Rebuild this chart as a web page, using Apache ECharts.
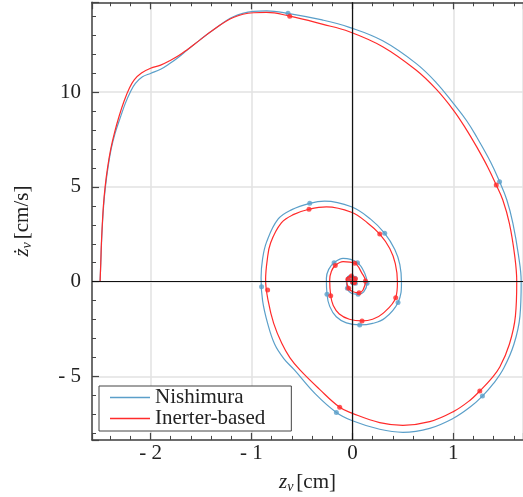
<!DOCTYPE html>
<html>
<head>
<meta charset="utf-8">
<script src="https://cdn.jsdelivr.net/npm/echarts@6.0.0/dist/echarts.min.js"></script>
<style>
  html, body { margin: 0; padding: 0; background: #fff; }
  #main { width: 523px; height: 497px; }
</style>
</head>
<body>
<div id="main"></div>
<script>
// phase portrait: z_v [cm] vs dz_v/dt [cm/s]
const seriesNames = ['Nishimura', 'Inerter-based'];

const nishimuraPath = [
  [-2.50, 0], [-2.493, 1.0], [-2.486, 2.0], [-2.477, 3.0], [-2.465, 4.0], [-2.447, 5.0],
  [-2.422, 6.0], [-2.39, 7.0], [-2.35, 7.85], [-2.30, 8.65], [-2.25, 9.4], [-2.20, 10.0],
  [-2.15, 10.45], [-2.08, 10.8], [-2.00, 10.98], [-1.90, 11.2], [-1.81, 11.5], [-1.72, 11.85],
  [-1.64, 12.2], [-1.51, 12.75], [-1.38, 13.27], [-1.18, 13.97], [-0.98, 14.25], [-0.85, 14.28],
  [-0.64, 14.15], [-0.30, 13.8], [-0.03, 13.41], [0.30, 12.7], [0.63, 11.51], [0.83, 10.5],
  [1.0, 9.4], [1.13, 8.5], [1.23, 7.64], [1.37, 6.3], [1.458, 5.27], [1.53, 4.31],
  [1.59, 3.08], [1.645, 1.4], [1.672, 0], [1.66, -1.8], [1.60, -3.3], [1.50, -4.55],
  [1.40, -5.35], [1.288, -6.03], [1.163, -6.62], [1.0, -7.2], [0.766, -7.73], [0.50, -7.94],
  [0.27, -7.78], [0.0, -7.33], [-0.159, -6.89], [-0.37, -5.9], [-0.575, -4.65], [-0.68, -4.05],
  [-0.77, -3.3], [-0.84, -2.2], [-0.89, -1.0], [-0.905, 0.2], [-0.89, 1.2], [-0.85, 2.1],
  [-0.737, 3.3], [-0.60, 3.8], [-0.423, 4.13], [-0.275, 4.25], [-0.01, 3.95], [0.18, 3.3],
  [0.32, 2.55], [0.42, 1.7], [0.47, 0.9], [0.486, -0.03], [0.452, -1.09], [0.32, -1.93],
  [0.2, -2.2], [0.072, -2.28], [-0.06, -2.17], [-0.16, -1.85], [-0.225, -1.3], [-0.252, -0.66],
  [-0.258, 0.18], [-0.235, 0.65], [-0.182, 1.0], [-0.093, 1.23], [0.05, 1.0], [0.122, 0.44],
  [0.145, -0.08], [0.112, -0.53], [0.056, -0.66], [-0.01, -0.61], [-0.05, -0.35], [-0.06, 0.09],
  [-0.027, 0.32], [0.023, 0.26], [0.04, -0.03], [0.015, -0.15], [-0.015, -0.08], [-0.01, 0.05],
  [0.01, 0.02]
];

const inerterPath = [
  [-2.50, 0], [-2.493, 1.0], [-2.487, 2.0], [-2.478, 3.0], [-2.467, 4.0], [-2.45, 5.0],
  [-2.426, 6.0], [-2.394, 7.0], [-2.355, 7.9], [-2.31, 8.75], [-2.26, 9.55], [-2.21, 10.2],
  [-2.16, 10.65], [-2.09, 11.0], [-2.00, 11.25], [-1.90, 11.42], [-1.81, 11.65], [-1.72, 11.92],
  [-1.64, 12.22], [-1.51, 12.75], [-1.38, 13.27], [-1.18, 13.93], [-0.98, 14.18], [-0.85, 14.2],
  [-0.62, 14.0], [-0.30, 13.58], [-0.03, 13.18], [0.30, 12.39], [0.63, 11.16], [0.83, 10.15],
  [1.0, 9.05], [1.12, 8.1], [1.23, 7.12], [1.34, 6.05], [1.425, 5.1], [1.49, 4.31],
  [1.555, 3.08], [1.607, 1.4], [1.628, 0], [1.615, -1.8], [1.555, -3.3], [1.46, -4.5],
  [1.37, -5.15], [1.262, -5.76], [1.163, -6.26], [1.0, -6.85], [0.766, -7.38], [0.50, -7.57],
  [0.27, -7.43], [0.0, -6.94], [-0.126, -6.62], [-0.33, -5.65], [-0.52, -4.65], [-0.62, -4.0],
  [-0.70, -3.25], [-0.78, -2.2], [-0.835, -1.0], [-0.86, 0.1], [-0.845, 1.1], [-0.81, 2.05],
  [-0.704, 3.1], [-0.58, 3.55], [-0.43, 3.82], [-0.258, 3.95], [-0.01, 3.66], [0.15, 3.1],
  [0.271, 2.51], [0.37, 1.75], [0.425, 0.95], [0.446, -0.03], [0.429, -0.84], [0.303, -1.67],
  [0.2, -1.98], [0.095, -2.07], [-0.03, -1.98], [-0.13, -1.7], [-0.19, -1.25], [-0.215, -0.74],
  [-0.225, 0.09], [-0.208, 0.55], [-0.17, 0.85], [-0.093, 1.06], [0.023, 0.97], [0.095, 0.44],
  [0.129, 0.04], [0.105, -0.44], [0.066, -0.58], [0.006, -0.53], [-0.037, -0.35], [-0.057, 0.09],
  [-0.03, 0.27], [0.02, 0.22], [0.04, 0.0], [0.015, -0.12], [-0.015, -0.06], [0.0, 0.03]
];

// sample dots drawn on the curves
const nishimuraMarks = [
  [-0.638, 14.15], [1.458, 5.27], [1.288, -6.03], [-0.159, -6.89], [-0.9, -0.26],
  [-0.423, 4.13], [0.32, 2.55], [0.452, -1.09], [0.072, -2.28], [-0.252, -0.66],
  [-0.182, 1.0], [0.05, 1.0], [0.145, -0.08], [0.056, -0.66], [-0.05, -0.35],
  [-0.03, 0.2], [0.025, 0.18], [0.03, -0.08]
];
const inerterMarks = [
  [-0.621, 14.0], [1.425, 5.1], [1.262, -5.76], [-0.126, -6.62], [-0.84, -0.44],
  [-0.43, 3.82], [0.271, 2.51], [0.429, -0.84], [0.095, -2.07], [-0.215, -0.74],
  [-0.17, 0.85], [0.023, 0.97], [0.129, 0.04], [0.066, -0.58], [-0.037, -0.35],
  [-0.045, 0.13], [-0.01, 0.3], [0.03, 0.15], [0.02, -0.05], [0.0, 0.05]
];

const xRange = [-2.58, 1.69];
const yRange = [-8.34, 14.73];

const BLUE = '#5b9fc9';
const RED = '#ff2b2b';
const FONT = "'Liberation Serif', 'DejaVu Serif', serif";

function fmt(v) {
  if (Math.abs(v - Math.round(v)) > 1e-6) return '';
  return v < 0 ? '- ' + Math.abs(v) : String(v);
}

const chartDom = document.getElementById('main');
const myChart = echarts.init(chartDom, null, { renderer: 'canvas' });

const axisLine = { show: true, onZero: false, lineStyle: { color: '#444', width: 1.5 } };
const tick = { show: true, inside: true, length: 7, lineStyle: { color: '#444', width: 1.2 } };
const minor = { show: true, splitNumber: 5, length: 4, lineStyle: { color: '#444', width: 1 } };
const grey = { show: true, lineStyle: { color: '#e2e2e2', width: 1.5 } };

const nameRich = {
  i: { fontFamily: FONT, fontSize: 21, fontStyle: 'italic', color: '#222' },
  s: { fontFamily: FONT, fontSize: 14, fontStyle: 'italic', color: '#222', padding: [9, 3, 0, 0] },
  n: { fontFamily: FONT, fontSize: 21, color: '#222' }
};

const option = {
  animation: false,
  backgroundColor: '#fff',
  grid: { left: 92, top: 2.3, width: 431, height: 437.6, outerBoundsMode: 'none', containLabel: false },
  legend: {
    data: seriesNames,
    orient: 'vertical',
    left: 99,
    top: 386,
    icon: 'rect',
    backgroundColor: '#fff',
    borderColor: '#444',
    borderWidth: 1,
    borderRadius: 0,
    padding: [1, 26, 2, 11],
    itemWidth: 40,
    itemHeight: 1.4,
    itemGap: 0,
    textStyle: { fontFamily: FONT, fontSize: 21, color: '#222', lineHeight: 20 }
  },
  xAxis: [
    {
      type: 'value', min: xRange[0], max: xRange[1], position: 'bottom',
      axisLine: axisLine, axisTick: tick, minorTick: minor,
      splitLine: grey,
      axisLabel: { formatter: fmt, showMinLabel: false, showMaxLabel: false,
        fontFamily: FONT, fontSize: 21, color: '#222', margin: 3 },
      name: '{i|z}{s|v}{n|[cm]}',
      nameLocation: 'middle',
      nameGap: 31,
      nameTextStyle: { rich: nameRich }
    },
    {
      type: 'value', min: xRange[0], max: xRange[1], position: 'top',
      axisLine: axisLine, axisTick: tick, minorTick: minor,
      splitLine: { show: false }, axisLabel: { show: false }
    }
  ],
  yAxis: {
    type: 'value', min: yRange[0], max: yRange[1],
    axisLine: axisLine, axisTick: tick, minorTick: minor,
    splitLine: grey,
    axisLabel: { formatter: fmt, showMinLabel: false, showMaxLabel: false,
      fontFamily: FONT, fontSize: 21, color: '#222', margin: 11 },
    name: '{i|ż}{s|v}{n|[cm/s]}',
    nameLocation: 'middle',
    nameGap: 58,
    nameRotate: 90,
    nameTextStyle: { rich: nameRich }
  },
  series: [
    {
      name: 'zero',
      type: 'line',
      data: [],
      silent: true,
      z: 1,
      markLine: {
        silent: true,
        symbol: ['none', 'none'],
        label: { show: false },
        lineStyle: { color: '#111', width: 1.2, type: 'solid' },
        data: [{ xAxis: 0 }, { yAxis: 0 }]
      }
    },
    {
      name: seriesNames[0],
      type: 'line',
      data: nishimuraPath,
      smooth: 0.4,
      symbol: 'none',
      color: BLUE,
      lineStyle: { color: BLUE, width: 1.2 },
      z: 3
    },
    {
      name: 'nishimuraMarks',
      type: 'scatter',
      data: nishimuraMarks,
      symbolSize: 5,
      itemStyle: { color: BLUE },
      silent: true,
      z: 3
    },
    {
      name: seriesNames[1],
      type: 'line',
      data: inerterPath,
      smooth: 0.4,
      symbol: 'none',
      color: RED,
      lineStyle: { color: RED, width: 1.2 },
      z: 4
    },
    {
      name: 'inerterMarks',
      type: 'scatter',
      data: inerterMarks,
      symbolSize: 5,
      itemStyle: { color: RED },
      silent: true,
      z: 4
    }
  ]
};

option && myChart.setOption(option);
window.addEventListener('resize', () => {
  myChart && myChart.resize();
});
</script>
</body>
</html>
